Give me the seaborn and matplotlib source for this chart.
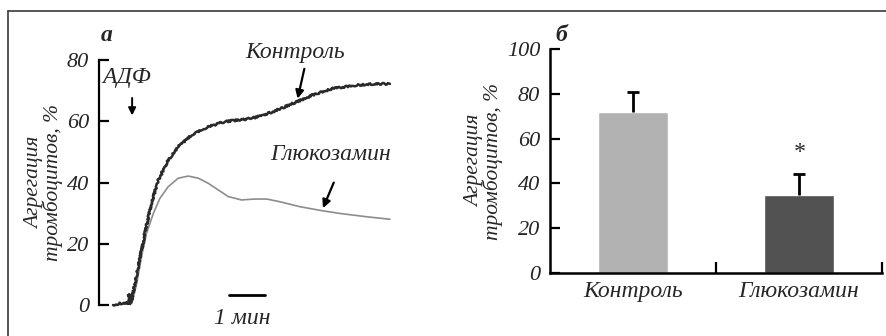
import matplotlib
matplotlib.use("Agg")
import matplotlib.pyplot as plt
from matplotlib.lines import Line2D
import seaborn as sns
import pandas as pd
import numpy as np

# ---- data: panel a (aggregation traces, time in minutes) ----
control_t = [0.03, 0.22, 0.44, 0.47, 0.50, 0.55, 0.73, 0.92, 1.10, 1.29, 1.56, 1.84,
             2.21, 2.68, 3.14, 3.60, 3.89, 4.03, 4.47, 5.14, 5.58, 6.14, 6.81, 7.25, 7.72]
control_v = [0.0, 0.5, 0.5, 3.5, 0.3, 1.6, 12.5, 23.8, 33.5, 40.8, 47.3, 51.7,
             55.5, 58.2, 59.9, 60.5, 61.0, 61.4, 63.1, 66.4, 68.6, 70.7, 71.8, 72.2, 72.2]
gluc_t = [0.03, 0.50, 0.55, 0.69, 0.82, 0.96, 1.15, 1.33, 1.56, 1.84, 2.12, 2.40,
          2.68, 2.95, 3.23, 3.60, 3.97, 4.30, 4.67, 5.22, 5.83, 6.33, 7.08, 7.72]
gluc_v = [0.0, 0.5, 0.5, 7.1, 15.8, 23.4, 29.9, 34.8, 38.6, 41.4, 42.1, 41.4,
          39.7, 37.6, 35.4, 34.3, 34.6, 34.6, 33.7, 32.1, 30.8, 29.9, 28.8, 28.0]

# ---- data: panel b (bars) ----
groups = ["Контроль", "Глюкозамин"]
means = [72, 35]
errors = [9, 9]
bar_colors = ["#b2b2b2", "#525252"]
yticks_a = [0, 20, 40, 60, 80]
yticks_b = [0, 20, 40, 60, 80, 100]
ylabel = "Агрегация\nтромбоцитов, %"

sns.set_theme(style="white")
plt.rcParams["font.family"] = ["Liberation Serif", "DejaVu Serif"]
plt.rcParams["font.style"] = "italic"

fig = plt.figure(figsize=(8.87, 3.36), dpi=100)

# ---------------- panel a ----------------
ax1 = fig.add_axes([99 / 887, 1 - 305 / 336, 301 / 887, 245 / 336])
df_c = pd.DataFrame({"t": control_t, "v": control_v})
df_g = pd.DataFrame({"t": gluc_t, "v": gluc_v})
sns.lineplot(data=df_g, x="t", y="v", ax=ax1, color="#8c8c8c", lw=1.2, clip_on=False)
sns.lineplot(data=df_c, x="t", y="v", ax=ax1, color="#2a2a2a", lw=1.8, clip_on=False)
ax1.lines[-1].set_sketch_params(scale=0.9, length=1.5, randomness=4)
ax1.set_xlim(-0.36, 8.0)
ax1.set_ylim(0, 80)
ax1.set_yticks(yticks_a)
ax1.set_xticks([])
ax1.set_xlabel("")
for s in ["top", "right", "bottom"]:
    ax1.spines[s].set_visible(False)
ax1.spines["left"].set_color("black")
ax1.spines["left"].set_linewidth(1.6)
ax1.tick_params(axis="y", direction="in", length=7, width=1.6, color="black",
                labelsize=16, pad=7, left=True)
ax1.set_ylabel(ylabel, fontsize=15.5, linespacing=0.9, labelpad=3)
ax1.patch.set_alpha(0)

ax1.text(-0.31, 88, "а", fontsize=17, fontweight="bold", ha="left", va="center")
ax1.text(0.42, 74.4, "АДФ", fontsize=17, ha="center", va="center")
ax1.annotate("", xy=(0.56, 61.0), xytext=(0.56, 68.5),
             arrowprops=dict(arrowstyle="-|>", lw=1.4, color="black", mutation_scale=11))
ax1.text(5.08, 82.3, "Контроль", fontsize=17, ha="center", va="center")
ax1.annotate("", xy=(5.14, 66.5), xytext=(5.36, 78),
             arrowprops=dict(arrowstyle="-|>", lw=1.6, color="black", mutation_scale=12))
ax1.text(6.08, 49, "Глюкозамин", fontsize=17, ha="center", va="center")
ax1.annotate("", xy=(5.83, 30.8), xytext=(6.19, 40.8),
             arrowprops=dict(arrowstyle="-|>", lw=1.6, color="black", mutation_scale=12))
ax1.plot([3.25, 4.25], [3.3, 3.3], color="black", lw=2, clip_on=False)
ax1.text(3.61, -4.5, "1 мин", fontsize=17, ha="center", va="center")

# ---------------- panel b ----------------
ax2 = fig.add_axes([550 / 887, 1 - 273 / 336, 332 / 887, 224 / 336])
df_b = pd.DataFrame({"group": groups, "value": means})
sns.barplot(data=df_b, x="group", y="value", hue="group", palette=bar_colors,
            ax=ax2, width=0.42, errorbar=None, legend=False, saturation=1)
xs = np.arange(len(groups))
tops = np.array(means) + np.array(errors)
ax2.vlines(xs, means, tops, color="black", lw=2)
ax2.hlines(tops, xs - 0.035, xs + 0.035, color="black", lw=2)
ax2.text(1, 54, "*", fontsize=17, ha="center", va="center")
ax2.set_xlim(-0.5, 1.5)
ax2.set_ylim(0, 100)
ax2.set_yticks(yticks_b)
ax2.set_xticks(xs)
ax2.set_xticklabels(groups)
ax2.set_xticks([0.5, 1.5], minor=True)
ax2.set_xlabel("")
for s in ["top", "right"]:
    ax2.spines[s].set_visible(False)
for s in ["left", "bottom"]:
    ax2.spines[s].set_color("black")
    ax2.spines[s].set_linewidth(1.8)
ax2.tick_params(axis="y", direction="in", length=7, width=1.6, color="black",
                labelsize=16, pad=7, left=True)
ax2.tick_params(axis="x", which="major", length=0, labelsize=17, pad=6)
ax2.tick_params(axis="x", which="minor", direction="in", length=8, width=1.6,
                color="black", bottom=True)
ax2.set_ylabel(ylabel, fontsize=15.5, linespacing=0.9, labelpad=3)
ax2.text(-0.47, 106, "б", fontsize=17, fontweight="bold", ha="left", va="center")
ax2.patch.set_alpha(0)

# frame (top and left edges)
fig.add_artist(Line2D([8 / 887, 1], [1 - 11 / 336, 1 - 11 / 336],
                      transform=fig.transFigure, color="#3a3a3a", lw=1.2))
fig.add_artist(Line2D([8 / 887, 8 / 887], [0, 1 - 11 / 336],
                      transform=fig.transFigure, color="#3a3a3a", lw=1.2))

fig.savefig("out.png", dpi=100)
